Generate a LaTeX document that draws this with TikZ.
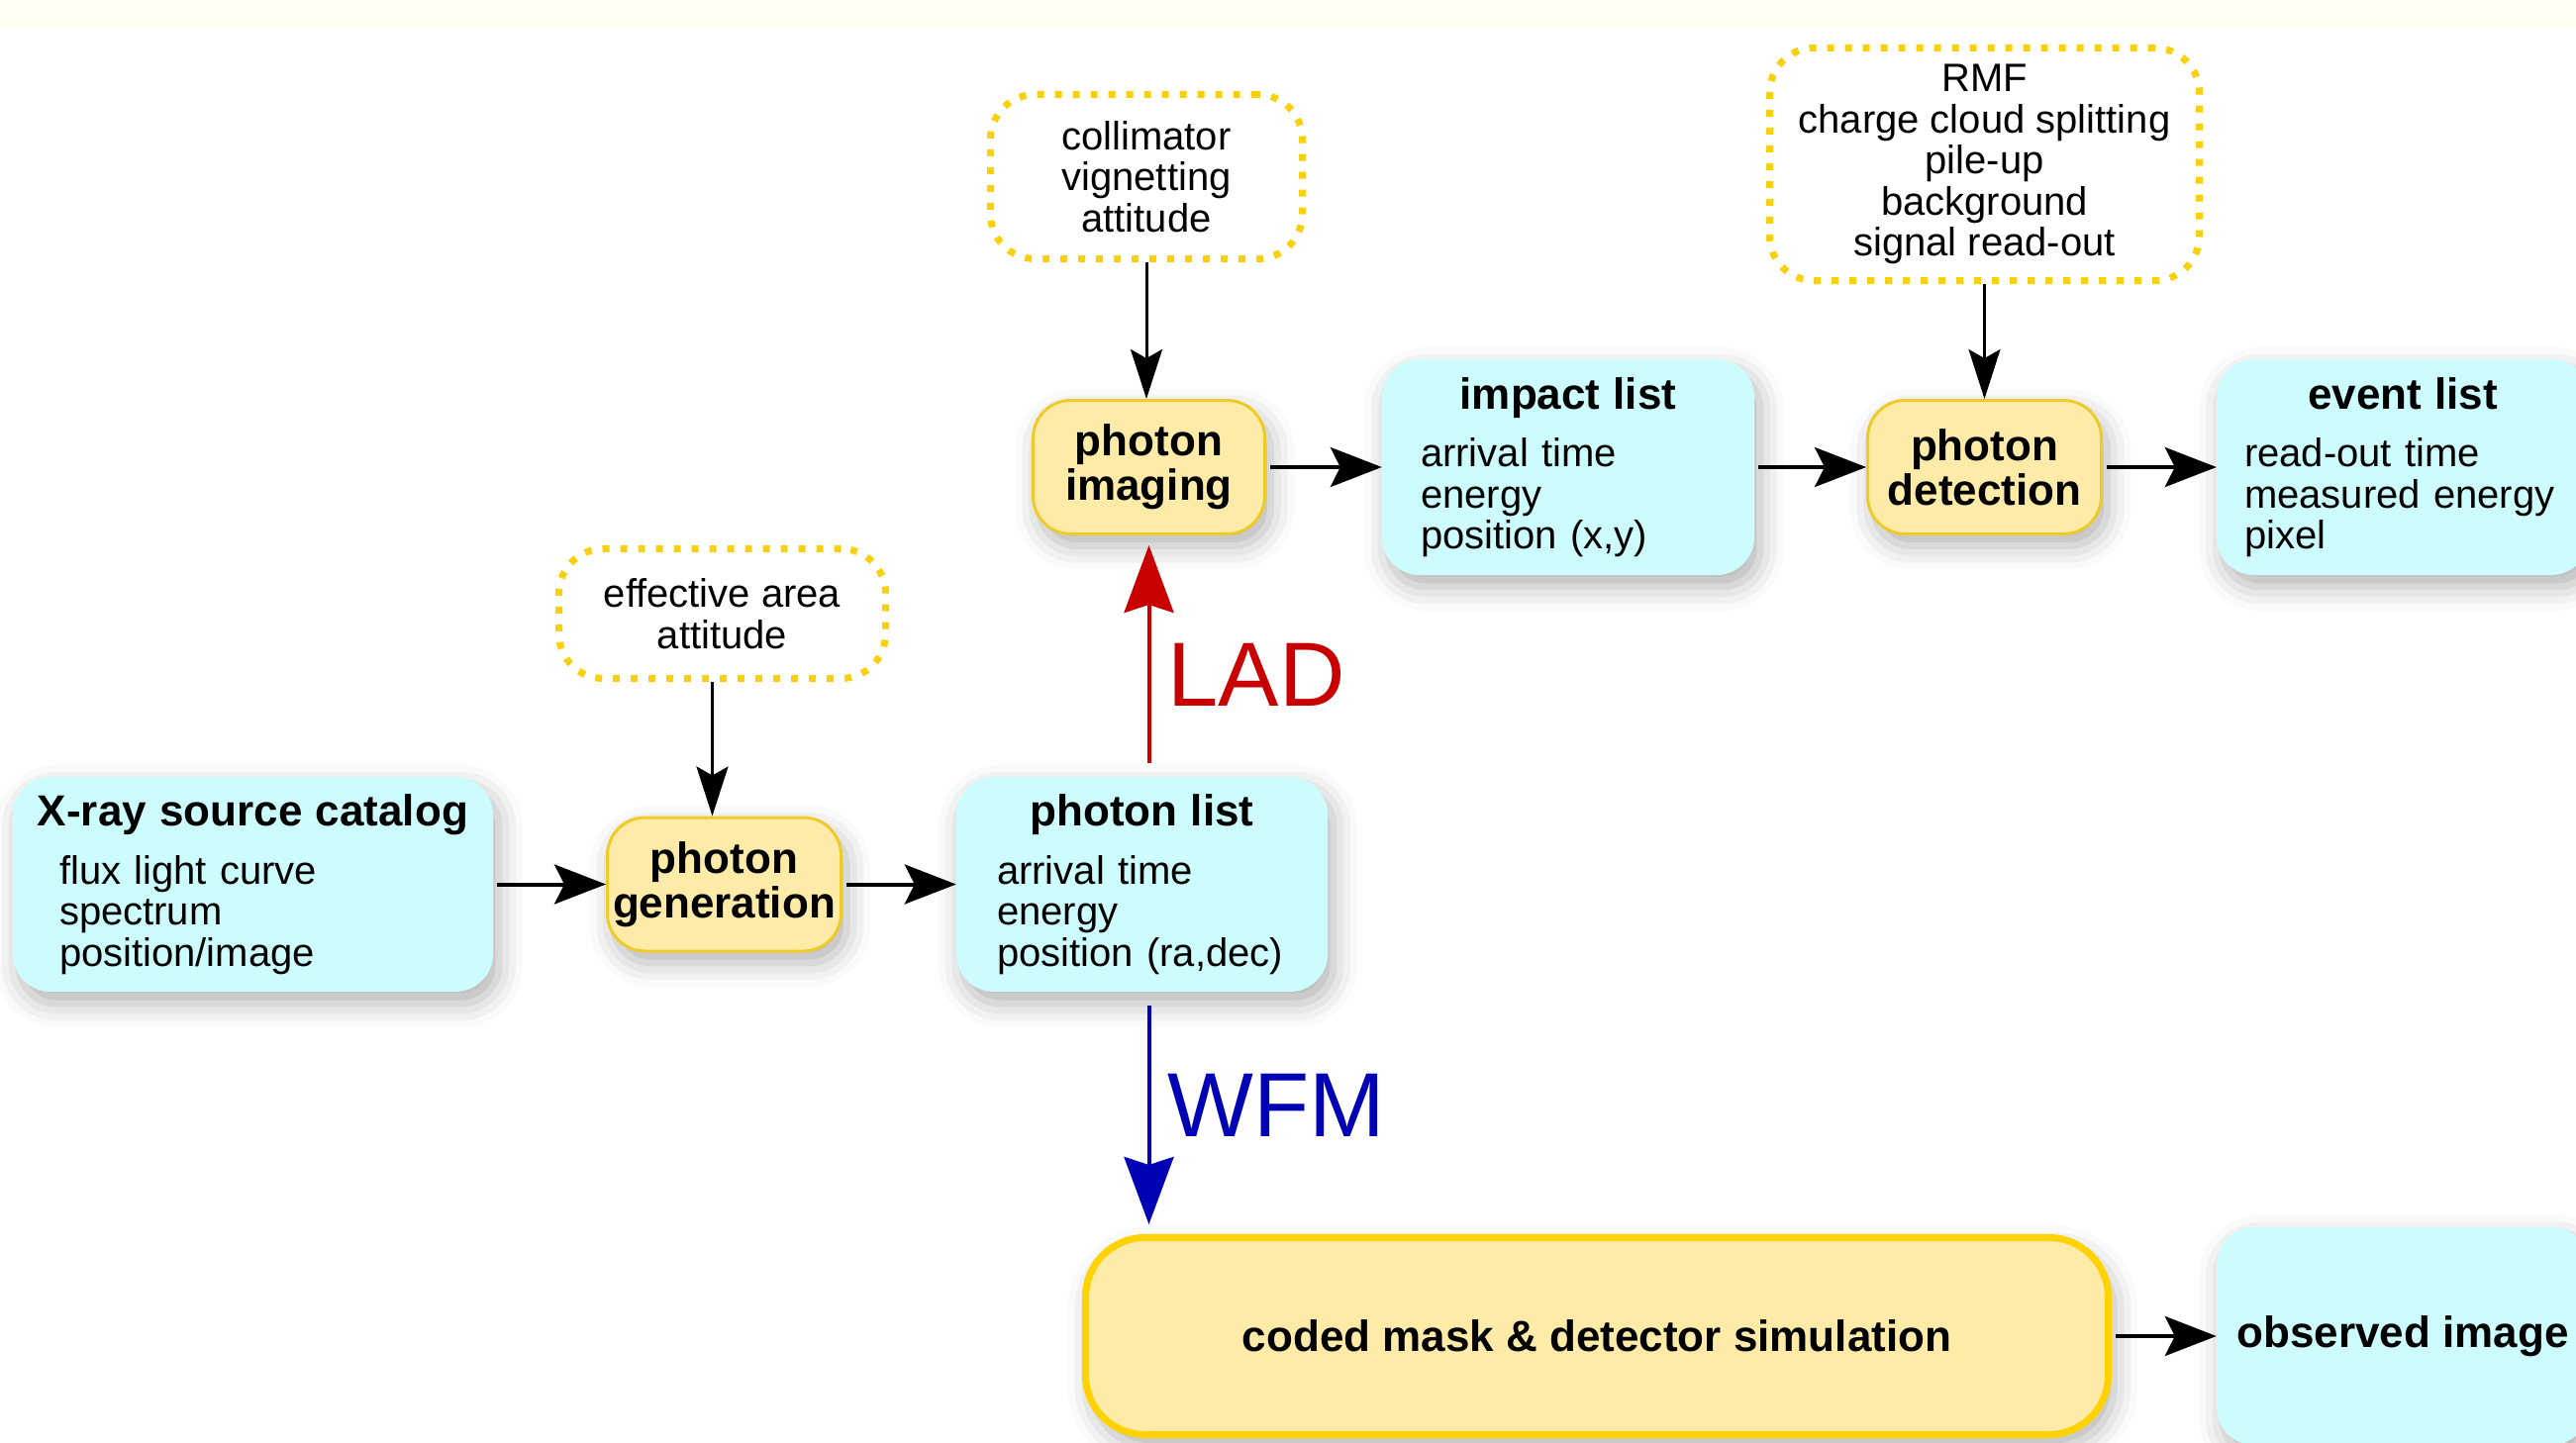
\documentclass[tikz,border=0pt]{standalone}
\usepackage{fontspec}
\setmainfont{Liberation Sans}
\usetikzlibrary{arrows.meta,shadows.blur}

\definecolor{listfill}{HTML}{CCFCFD}
\definecolor{procfill}{HTML}{FDEBA7}
\definecolor{procline}{HTML}{EFCB2A}
\definecolor{codedline}{HTML}{FFD200}
\definecolor{paramline}{HTML}{F9D00E}
\definecolor{ladred}{HTML}{C80000}
\definecolor{wfmblue}{HTML}{0000B4}
\definecolor{topstrip}{HTML}{FFFEF0}

\newcommand\bodytext{\fontsize{40}{41.5}\selectfont}
\newcommand\headtext{\fontsize{44}{41.5}\selectfont\bfseries}
\newcommand\listhead[1]{\parindent=0pt\noindent\makebox[\hsize]{\headtext #1}\par\vspace{17pt}}

\begin{document}
\begin{tikzpicture}[x=1pt,y=-1pt,
  softshadow/.style={blur shadow={shadow xshift=6pt,shadow yshift=-12pt,shadow blur radius=24pt,shadow opacity=30}},
  listbox/.style={fill=listfill, draw=none, rounded corners=38pt, inner sep=0pt,
    align=left, font=\bodytext, softshadow},
  procbox/.style={fill=procfill, draw=procline, line width=3pt, rounded corners=38pt,
    inner sep=0pt, align=center, font=\fontsize{44}{45}\selectfont\bfseries, softshadow},
  parambox/.style={fill=white, draw=paramline, line width=7pt, dash pattern=on 7pt off 11pt,
    rounded corners=45pt, inner sep=0pt, align=center, font=\bodytext},
  flow/.style={line width=4pt, shorten <=4pt, -{Stealth[length=52pt,width=40pt,inset=10pt]}},
  feed/.style={line width=3pt, -{Stealth[length=50pt,width=32pt,inset=9pt]}},
  modearrow/.style={line width=4pt, shorten <=14pt, shorten >=10pt,
    -{Stealth[length=68pt,width=50pt,inset=8pt]}},
  modelabel/.style={anchor=base west, font=\fontsize{92}{92}\selectfont}
]
\path[use as bounding box, clip] (0,0) rectangle (2602,1458);
\fill[topstrip] (0,0) rectangle (2602,28);

% parameter boxes
\node[parambox, minimum width=330pt, minimum height=131pt] (effarea) at (729.5,620)
  {effective area\\attitude};
\node[parambox, minimum width=315pt, minimum height=166pt] (collim) at (1158,178.5)
  {collimator\\vignetting\\attitude};
\node[parambox, minimum width=434pt, minimum height=235pt] (rmf) at (2004.5,166)
  {RMF\\charge cloud splitting\\pile-up\\background\\signal read-out};

% data lists
\node[listbox, minimum width=485pt, minimum height=217pt, text width=391pt] (src) at (255.5,893.5)
  {\listhead{X-ray source catalog}flux light curve\\spectrum\\position/image};
\node[listbox, minimum width=375pt, minimum height=217pt, text width=293pt] (plist) at (1153.5,893.5)
  {\listhead{photon list}arrival time\\energy\\position (ra,dec)};
\node[listbox, minimum width=376pt, minimum height=218pt, text width=298pt] (impact) at (1584,472)
  {\listhead{impact list}arrival time\\energy\\position (x,y)};
\node[listbox, minimum width=376pt, minimum height=218pt, text width=320pt] (event) at (2427,472)
  {\listhead{event list}read-out time\\measured energy\\pixel};
\node[listbox, minimum width=376pt, minimum height=220pt, align=center, font=\headtext] (observed)
  at (2427,1350) {observed image};

% processing steps
\node[procbox, minimum width=236pt, minimum height=135pt] (gen) at (731.5,893.5) {photon\\generation};
\node[procbox, minimum width=234pt, minimum height=135pt] (imaging) at (1160.5,472) {photon\\imaging};
\node[procbox, minimum width=236pt, minimum height=135pt] (detection) at (2004.5,472) {photon\\detection};
\node[procbox, draw=codedline, line width=7pt, rounded corners=60pt, minimum width=1033pt,
  minimum height=199pt] (coded) at (1613,1350) {coded mask \& detector simulation};

% main flow
\draw[flow] (src) -- (gen);
\draw[flow] (gen) -- (plist);
\draw[flow] (imaging) -- (impact);
\draw[flow] (impact) -- (detection);
\draw[flow] (detection) -- (event);
\draw[flow] (coded) -- (observed);

% parameter inputs
\draw[feed] ([xshift=-10pt]effarea.south) -- ([xshift=-12pt]gen.north);
\draw[feed] (collim.south) -- (collim.south |- imaging.north);
\draw[feed] (rmf) -- (detection);

% instrument branches
\draw[modearrow, ladred] (plist.north -| imaging.south) -- (imaging.south);
\draw[modearrow, wfmblue] (plist.south -| imaging.south) -- (coded.north -| imaging.south);
\node[modelabel, text=ladred] (ladlabel) at (1176,713) {LAD};
\node[modelabel, text=wfmblue] (wfmlabel) at (1176,1148) {WFM};
\end{tikzpicture}
\end{document}
